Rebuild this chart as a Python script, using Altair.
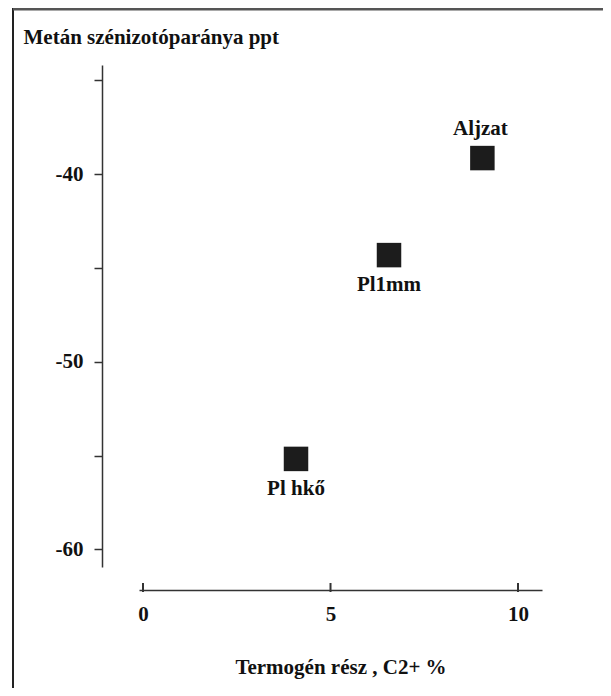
import altair as alt
import pandas as pd

# data
samples = ["Aljzat", "Pl1mm", "Pl hkő"]
thermogenic_pct = [9.05, 6.56, 4.08]
methane_d13c = [-39.15, -44.32, -55.18]
label_side = ["above", "below", "below"]

x_ticks = [0, 5, 10]
y_ticks = [-35, -40, -45, -50, -55, -60]

X_DOMAIN = [-0.107, 10.64]
Y_DOMAIN = [-60.94, -34.19]

FONT = "Liberation Serif"
FS = 21
W, H = 403, 502

df = pd.DataFrame({
    "sample": samples,
    "x": thermogenic_pct,
    "y": methane_d13c,
    "side": label_side,
})

xs = alt.Scale(domain=X_DOMAIN, nice=False, zero=False)
ys = alt.Scale(domain=Y_DOMAIN, nice=False, zero=False)

x_axis = alt.Axis(
    values=x_ticks, ticks=False, tickSize=0, labelPadding=13, offset=23,
    grid=False, title="Termogén rész , C2+ %", titleX=W / 2, titleY=83,
    titleAlign="center", titleBaseline="alphabetic",
)
y_axis = alt.Axis(
    values=y_ticks, tickSize=8, labelPadding=11, offset=37, grid=False,
    labelExpr="datum.value % 10 == 0 ? '' + datum.value : ''",
    title="Metán szénizotóparánya ppt", titleAngle=0, titleX=-79, titleY=-22,
    titleAlign="left", titleBaseline="alphabetic",
)

base = alt.Chart(df)

points = base.mark_square(size=600, color="#1c1c1c", opacity=1).encode(
    x=alt.X("x:Q", scale=xs, axis=x_axis),
    y=alt.Y("y:Q", scale=ys, axis=y_axis),
)

labels_above = base.transform_filter(alt.datum.side == "above").mark_text(
    font=FONT, fontSize=FS, fontWeight="bold", color="#111",
    baseline="middle", align="center", dy=-29, dx=-2,
).encode(x=alt.X("x:Q", scale=xs), y=alt.Y("y:Q", scale=ys), text="sample:N")

labels_below = base.transform_filter(alt.datum.side == "below").mark_text(
    font=FONT, fontSize=FS, fontWeight="bold", color="#111",
    baseline="middle", align="center", dy=30,
).encode(x=alt.X("x:Q", scale=xs), y=alt.Y("y:Q", scale=ys), text="sample:N")

xtick_rules = alt.Chart(pd.DataFrame({"t": x_ticks})).mark_rule(
    color="#333", strokeWidth=2
).encode(
    x=alt.X("t:Q", scale=xs),
    y=alt.value(H + 23 - 7),
    y2=alt.value(H + 23 + 2),
)

one = pd.DataFrame({"a": [0]})
frame_left = alt.Chart(one).mark_rule(color="#222", strokeWidth=2).encode(
    x=alt.value(-126), y=alt.value(-57), y2=alt.value(640)
)
frame_top = alt.Chart(one).mark_rule(color="#555", strokeWidth=3).encode(
    y=alt.value(-56), x=alt.value(-126), x2=alt.value(480)
)

chart = alt.layer(
    frame_left, frame_top, xtick_rules, points, labels_above, labels_below
).properties(
    width=W, height=H,
    autosize=alt.AutoSizeParams(type="none"),
    padding={"left": 131, "top": 57, "right": 61, "bottom": 121},
    background="white",
).configure_view(stroke=None).configure_axis(
    labelFont=FONT, labelFontSize=FS, labelFontWeight="bold", labelColor="#111",
    titleFont=FONT, titleFontSize=FS, titleFontWeight="bold", titleColor="#111",
    domainColor="#333", domainWidth=1.5, tickColor="#333", tickWidth=1.5,
)

chart.save("out.html", embed_options={"renderer": "svg", "actions": False})
